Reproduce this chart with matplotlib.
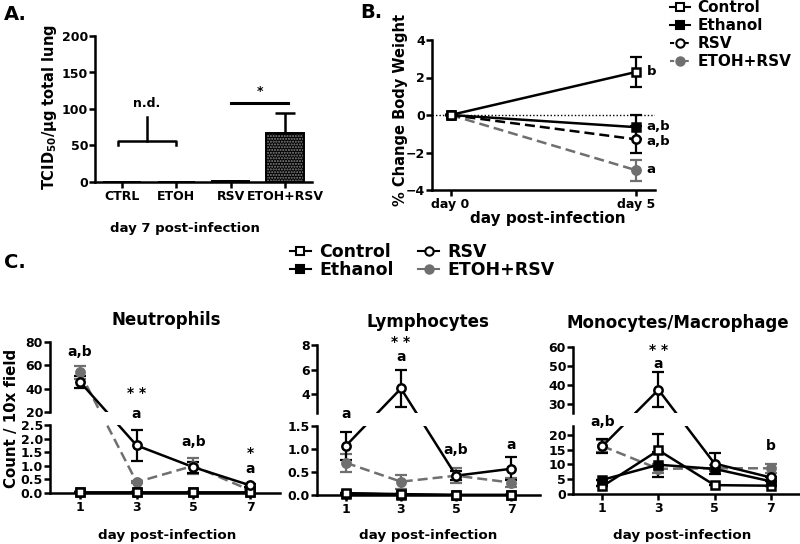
import matplotlib
matplotlib.use("Agg")
import matplotlib.pyplot as plt
from matplotlib.lines import Line2D

plt.rcParams['font.family'] = ['DejaVu Sans']
plt.rcParams['font.weight'] = 'bold'
plt.rcParams['mathtext.default'] = 'bf'
plt.rcParams['axes.linewidth'] = 1.8
plt.rcParams['xtick.major.width'] = 1.8
plt.rcParams['ytick.major.width'] = 1.8
plt.rcParams['xtick.major.size'] = 4
plt.rcParams['ytick.major.size'] = 4
plt.rcParams['xtick.major.pad'] = 2
plt.rcParams['ytick.major.pad'] = 1
plt.rcParams['xtick.labelsize'] = 9
plt.rcParams['ytick.labelsize'] = 9

W, H = 800, 544
GRAY = '#6f6f6f'

# Panel A: lung viral titre, day 7
tcid_groups = ['CTRL', 'ETOH', 'RSV', 'ETOH+RSV']
tcid_mean = [0, 0, 1, 67]
tcid_err = [0, 0, 0, 28]

# Panel B: body weight change
bw_days = [0, 5]
bw_day_labels = ['day 0', 'day 5']
bw_control = [0, 2.3]
bw_control_err = [0, 0.8]
bw_ethanol = [0, -0.65]
bw_ethanol_err = [0, 0.65]
bw_rsv = [0, -1.3]
bw_rsv_err = [0, 0.73]
bw_etohrsv = [0, -2.95]
bw_etohrsv_err = [0, 0.55]

# Panel C: BAL cell counts
bal_days = [1, 3, 5, 7]
neut_control = [0.02, 0.02, 0.02, 0.02]
neut_control_err = [0, 0, 0, 0]
neut_ethanol = [0.02, 0.02, 0.02, 0.02]
neut_ethanol_err = [0, 0, 0, 0]
neut_rsv = [46, 1.75, 0.95, 0.28]
neut_rsv_err = [5.2, 0.58, 0.2, 0.05]
neut_etohrsv = [54, 0.4, 1.0, 0.1]
neut_etohrsv_err = [5.5, 0.05, 0.3, 0.05]

lymph_control = [0.04, 0.02, 0.0, 0.0]
lymph_control_err = [0, 0, 0, 0]
lymph_ethanol = [0.03, 0.01, 0.0, 0.0]
lymph_ethanol_err = [0, 0, 0, 0]
lymph_rsv = [1.07, 4.45, 0.42, 0.57]
lymph_rsv_err = [0.3, 1.55, 0.1, 0.25]
lymph_etohrsv = [0.7, 0.29, 0.42, 0.27]
lymph_etohrsv_err = [0.2, 0.15, 0.16, 0.1]

mono_control = [2.6, 14.8, 3.0, 2.8]
mono_control_err = [0, 5.4, 0, 0]
mono_ethanol = [4.8, 9.9, 8.5, 4.3]
mono_ethanol_err = [0, 4.3, 0, 0]
mono_rsv = [16.2, 37.5, 10.3, 5.6]
mono_rsv_err = [2.3, 9.2, 3.7, 0]
mono_etohrsv = [16.2, 8.5, 8.7, 8.7]
mono_etohrsv_err = [2.0, 1.5, 1.0, 1.5]

STYLES = {
    'Control': dict(color='black', marker='s', mfc='white', mec='black', ls='-'),
    'Ethanol': dict(color='black', marker='s', mfc='black', mec='black', ls='-'),
    'RSV': dict(color='black', marker='o', mfc='white', mec='black', ls='-'),
    'ETOH+RSV': dict(color=GRAY, marker='o', mfc=GRAY, mec=GRAY, ls=(0, (4, 2))),
}

fig = plt.figure(figsize=(8, 5.44), dpi=100)


def px_axes(left, top, right, bottom):
    return fig.add_axes([left / W, 1 - bottom / H, (right - left) / W, (bottom - top) / H])


def px_text(x, y, s, **kw):
    kw.setdefault('ha', 'center')
    kw.setdefault('va', 'center')
    fig.text(x / W, 1 - y / H, s, **kw)


def draw_marks(ax, x, y, err, name, ms=6, lims=None):
    st = STYLES[name]
    ax.errorbar(x, y, yerr=err, fmt='none', ecolor=st['color'], elinewidth=1.6,
                capsize=4, capthick=1.6, zorder=2)
    pts = [(xi, yi) for xi, yi in zip(x, y) if lims is None or lims[0] <= yi <= lims[1]]
    if pts:
        ax.plot([p[0] for p in pts], [p[1] for p in pts], ls='none', marker=st['marker'],
                ms=ms, mfc=st['mfc'], mec=st['mec'], mew=1.8, clip_on=False, zorder=4)


def draw_series(ax, x, y, err, name, ls=None, ms=6):
    st = STYLES[name]
    ax.plot(x, y, color=st['color'], ls=ls if ls is not None else st['ls'], lw=1.8, zorder=2)
    draw_marks(ax, x, y, err, name, ms=ms)


def clean(ax):
    ax.spines['top'].set_visible(False)
    ax.spines['right'].set_visible(False)


# ---------------- Panel A ----------------
ax_a = px_axes(95, 36, 312, 182)
clean(ax_a)
xs = list(range(len(tcid_groups)))
ax_a.bar(xs, tcid_mean, width=0.69, color='black', edgecolor='#8a8a8a', hatch='......', lw=0)
ax_a.bar(xs, tcid_mean, width=0.69, fill=False, edgecolor='black', lw=1.4)
ax_a.errorbar(xs, tcid_mean, yerr=[[0] * len(xs), tcid_err], fmt='none', ecolor='black',
              elinewidth=1.8, capsize=7, capthick=1.8)
ax_a.set_xlim(-0.5, 3.5)
ax_a.set_ylim(0, 200)
ax_a.set_yticks([0, 50, 100, 150, 200])
ax_a.set_xticks(xs)
ax_a.set_xticklabels(tcid_groups)
ax_a.plot([-0.07, -0.07, 1.0, 1.0], [50, 56, 56, 50], color='black', lw=1.8, clip_on=False)
ax_a.plot([0.45, 0.45], [56, 89], color='black', lw=1.8)
ax_a.text(0.45, 108, 'n.d.', ha='center', va='center', fontsize=9)
ax_a.plot([2.0, 3.05], [108, 108], color='black', lw=2.2, clip_on=False)
ax_a.text(2.55, 124, '*', ha='center', va='center', fontsize=9)
px_text(50, 107, r'TCID$_{50}$/µg total lung', rotation=90, fontsize=10.5)
px_text(185, 228, 'day 7 post-infection', fontsize=9.5)
px_text(15, 14, 'A.', fontsize=14)

# ---------------- Panel B ----------------
ax_b = px_axes(432, 40, 655, 190)
clean(ax_b)
ax_b.axhline(0, ls=(0, (1, 1.5)), color='black', lw=1.0, zorder=1)
draw_series(ax_b, bw_days, bw_etohrsv, bw_etohrsv_err, 'ETOH+RSV')
draw_series(ax_b, bw_days, bw_rsv, bw_rsv_err, 'RSV', ls=(0, (4, 2)))
draw_series(ax_b, bw_days, bw_ethanol, bw_ethanol_err, 'Ethanol')
draw_series(ax_b, bw_days, bw_control, bw_control_err, 'Control')
ax_b.set_xlim(-0.5, 5.5)
ax_b.set_ylim(-4, 4)
ax_b.set_yticks([-4, -2, 0, 2, 4])
ax_b.set_xticks(bw_days)
ax_b.set_xticklabels(bw_day_labels)
for txt, yv in [('b', 2.3), ('a,b', -0.6), ('a,b', -1.42), ('a', -2.93)]:
    ax_b.text(5.27, yv, txt, ha='left', va='center', fontsize=9.5)
px_text(400, 110, '% Change Body Weight', rotation=90, fontsize=10.5)
px_text(548, 218, 'day post-infection', fontsize=11)
px_text(371, 13, 'B.', fontsize=14)

b_handles = []
for name in ['Control', 'Ethanol', 'RSV', 'ETOH+RSV']:
    st = STYLES[name]
    ls = (0, (2, 1.5)) if name in ('RSV', 'ETOH+RSV') else '-'
    b_handles.append(Line2D([0], [0], color=st['color'], ls=ls, lw=1.5, marker=st['marker'],
                            ms=6, mfc=st['mfc'], mec=st['mec'], mew=1.5))
fig.legend(b_handles, ['Control', 'Ethanol', 'RSV', 'ETOH+RSV'], loc='upper left',
           bbox_to_anchor=(670 / W, 1 - 0 / H), frameon=False, fontsize=11,
           handlelength=1.3, handletextpad=0.5, labelspacing=0.2, borderpad=0,
           borderaxespad=0)


# ---------------- Panel C ----------------
def broken_line(ax_up, ax_lo, up_lim, x, y, name):
    # line drawn straight in page space across the axis break, hidden in the gap
    st = STYLES[name]
    to_fig = fig.transFigure.inverted()
    pts = []
    for xi, yi in zip(x, y):
        ax = ax_up if yi >= up_lim[0] else ax_lo
        pts.append(to_fig.transform(ax.transData.transform((xi, yi))))
    fx = [p[0] for p in pts]
    fy = [p[1] for p in pts]
    for ax in (ax_up, ax_lo):
        ax.add_line(Line2D(fx, fy, transform=fig.transFigure, color=st['color'],
                           ls=st['ls'], lw=1.8, zorder=2))


def bal_panel(left, right, up_px, lo_px, up_lim, lo_lim, up_ticks, lo_ticks, lo_fmt, series):
    ax_up = px_axes(left, up_px[0], right, up_px[1])
    ax_lo = px_axes(left, lo_px[0], right, lo_px[1])
    for ax, lims in ((ax_up, up_lim), (ax_lo, lo_lim)):
        clean(ax)
        ax.set_xlim(-0.05, 8.05)
        ax.set_ylim(*lims)
    for name, vals, errs in series:
        broken_line(ax_up, ax_lo, up_lim, bal_days, vals, name)
        for ax, lims in ((ax_up, up_lim), (ax_lo, lo_lim)):
            draw_marks(ax, bal_days, vals, errs, name, lims=lims)
    for ax, lims in ((ax_up, up_lim), (ax_lo, lo_lim)):
        ax.set_xlim(-0.05, 8.05)
        ax.set_ylim(*lims)
    ax_up.spines['bottom'].set_visible(False)
    ax_up.tick_params(axis='x', bottom=False, labelbottom=False)
    ax_up.set_yticks(up_ticks)
    ax_lo.set_yticks(lo_ticks)
    ax_lo.set_yticklabels([lo_fmt.format(t) for t in lo_ticks])
    ax_lo.set_xticks(bal_days)
    return ax_up, ax_lo


n_up, n_lo = bal_panel(50, 280, (342, 412), (425, 493), (20, 80), (0, 2.5),
                       [20, 40, 60, 80], [0, 0.5, 1.0, 1.5, 2.0, 2.5], '{:.1f}',
                       [('ETOH+RSV', neut_etohrsv, neut_etohrsv_err),
                        ('Ethanol', neut_ethanol, neut_ethanol_err),
                        ('Control', neut_control, neut_control_err),
                        ('RSV', neut_rsv, neut_rsv_err)])
n_up.text(1, 71.7, 'a,b', ha='center', va='center', fontsize=10)
n_up.text(3, 36, '* *', ha='center', va='center', fontsize=10)
n_lo.text(3, 2.9, 'a', ha='center', va='center', fontsize=10)
n_lo.text(5, 1.89, 'a,b', ha='center', va='center', fontsize=10)
n_lo.text(7, 1.48, '*', ha='center', va='center', fontsize=10)
n_lo.text(7, 0.88, 'a', ha='center', va='center', fontsize=10)

l_up, l_lo = bal_panel(317, 540, (345, 413), (426, 495), (2.45, 8), (0, 1.5),
                       [4, 6, 8], [0, 0.5, 1.0, 1.5], '{:.1f}',
                       [('ETOH+RSV', lymph_etohrsv, lymph_etohrsv_err),
                        ('Ethanol', lymph_ethanol, lymph_ethanol_err),
                        ('Control', lymph_control, lymph_control_err),
                        ('RSV', lymph_rsv, lymph_rsv_err)])
l_up.text(3, 8.25, '* *', ha='center', va='center', fontsize=10)
l_up.text(3, 7.0, 'a', ha='center', va='center', fontsize=10)
l_lo.text(1, 1.76, 'a', ha='center', va='center', fontsize=10)
l_lo.text(5, 0.98, 'a,b', ha='center', va='center', fontsize=10)
l_lo.text(7, 1.09, 'a', ha='center', va='center', fontsize=10)

m_up, m_lo = bal_panel(573, 800, (347, 413), (426, 494), (25.3, 60), (0, 23),
                       [30, 40, 50, 60], [0, 5, 10, 15, 20], '{:d}',
                       [('ETOH+RSV', mono_etohrsv, mono_etohrsv_err),
                        ('Control', mono_control, mono_control_err),
                        ('Ethanol', mono_ethanol, mono_ethanol_err),
                        ('RSV', mono_rsv, mono_rsv_err)])
m_up.text(3, 58.5, '* *', ha='center', va='center', fontsize=10)
m_up.text(3, 51.2, 'a', ha='center', va='center', fontsize=10)
m_lo.text(1, 24.4, 'a,b', ha='center', va='center', fontsize=10)
m_lo.text(7, 16.2, 'b', ha='center', va='center', fontsize=10)

px_text(166, 320, 'Neutrophils', fontsize=12)
px_text(428, 322, 'Lymphocytes', fontsize=12)
px_text(678, 323, 'Monocytes/Macrophage', fontsize=12)
for xc in (167, 428, 682):
    px_text(xc, 536, 'day post-infection', fontsize=9.7)
px_text(12, 418, 'Count / 10x field', rotation=90, fontsize=10.8)
px_text(15, 262, 'C.', fontsize=14)

c_handles = []
for name in ['Control', 'Ethanol', 'RSV', 'ETOH+RSV']:
    st = STYLES[name]
    c_handles.append(Line2D([0], [0], color=st['color'], ls='-', lw=1.5, marker=st['marker'],
                            ms=6, mfc=st['mfc'], mec=st['mec'], mew=1.5))
fig.legend(c_handles, ['Control', 'Ethanol', 'RSV', 'ETOH+RSV'], loc='upper left', ncol=2,
           bbox_to_anchor=(290 / W, 1 - 243 / H), frameon=False, fontsize=12.5,
           handlelength=1.2, handletextpad=0.5, labelspacing=0.0, columnspacing=1.4,
           borderpad=0, borderaxespad=0)

fig.savefig('out.png', dpi=100)
